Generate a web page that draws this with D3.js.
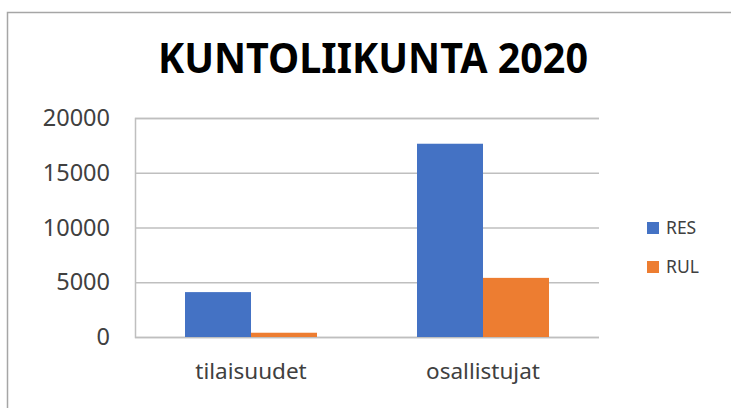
<!DOCTYPE html>
<html><head><meta charset="utf-8">
<script src="https://cdn.jsdelivr.net/npm/d3@7"></script>
<style>body{margin:0;background:#fff;}svg{display:block;}</style>
</head><body>
<svg id="c" width="731" height="408"></svg>
<script>
const categories = ["tilaisuudet", "osallistujat"];
const seriesNames = ["RES", "RUL"];
const resValues = [4100, 17650];
const rulValues = [390, 5400];
const yTicks = [0, 5000, 10000, 15000, 20000];
const colors = ["#4472C4", "#ED7D31"];
const title = "KUNTOLIIKUNTA 2020";

const svg = d3.select("#c");
const font = "'Noto Sans', 'Open Sans', sans-serif";

svg.append("rect").attr("x", 7.5).attr("y", 12.5).attr("width", 740).attr("height", 420)
  .attr("fill", "#fff").attr("stroke", "#a6a6a6").attr("stroke-width", 1.5);

const pLeft = 135, pRight = 599, pTop = 118, pBottom = 337;
const y = d3.scaleLinear().domain([0, 20000]).range([pBottom, pTop]);
const x0 = d3.scaleBand().domain(categories).range([pLeft, pRight]).padding(0);
const step = x0.bandwidth();
const gap = step * 100 / 232 / 2;
const x1 = d3.scaleBand().domain(seriesNames).range([gap, step - gap]).padding(0);

// grid
const yAxis = d3.axisLeft(y).tickValues(yTicks).tickSize(-(pRight - pLeft)).tickFormat(d3.format("d"));
const gy = svg.append("g").attr("transform", `translate(${pLeft},0)`).call(yAxis);
gy.select(".domain").attr("stroke", "#bfbfbf").attr("stroke-width", 1.5);
gy.selectAll(".tick line").attr("stroke", "#bfbfbf").attr("stroke-width", 1.5);
gy.selectAll(".tick text").attr("x", -25).attr("fill", "#404040")
  .style("font-family", font).style("font-size", "23.5px");

// title
svg.append("text").attr("x", 373).attr("y", 73).attr("text-anchor", "middle")
  .attr("textLength", 430).attr("lengthAdjust", "spacingAndGlyphs")
  .style("font-family", font).style("font-weight", "bold").style("font-size", "42px")
  .attr("fill", "#000").text(title);

const data = categories.map((c, i) => ({cat: c, vals: [resValues[i], rulValues[i]]}));
const g = svg.append("g");
data.forEach(d => {
  d.vals.forEach((v, j) => {
    g.append("rect")
      .attr("x", x0(d.cat) + x1(seriesNames[j]))
      .attr("y", y(v))
      .attr("width", x1.bandwidth())
      .attr("height", y(0) - y(v))
      .attr("fill", colors[j]);
  });
});

// x labels
const xAxis = d3.axisBottom(x0).tickSize(0);
const gx = svg.append("g").attr("transform", `translate(0,${pBottom})`).call(xAxis);
gx.select(".domain").remove();
gx.selectAll(".tick text").attr("y", 42).attr("dy", 0).attr("fill", "#404040")
  .style("font-family", font).style("font-size", "22.5px");

// legend
const lg = svg.append("g");
seriesNames.forEach((s, j) => {
  const cy = 228 + j * 39;
  lg.append("rect").attr("x", 647).attr("y", cy - 6).attr("width", 12).attr("height", 12).attr("fill", colors[j]);
  lg.append("text").attr("x", 666).attr("y", cy).attr("dy", "0.36em").attr("fill", "#404040")
    .style("font-family", font).style("font-size", "17.5px").text(s);
});
</script>
</body></html>
